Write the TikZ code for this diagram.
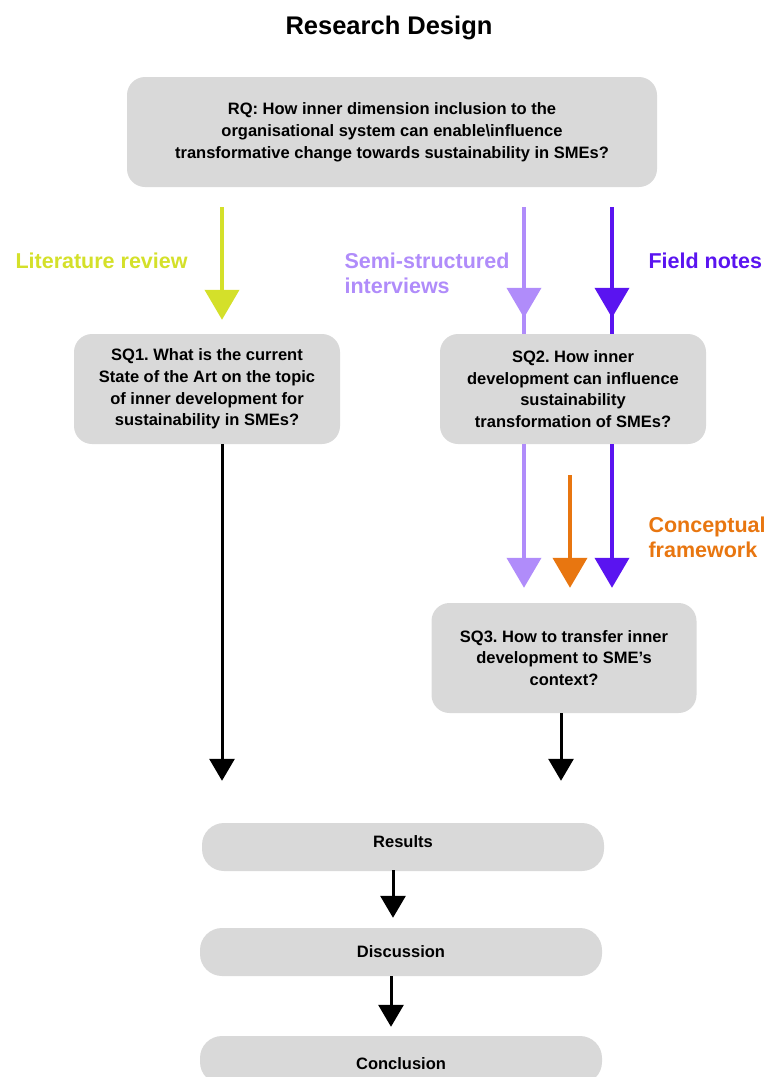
\documentclass[tikz,border=0pt]{standalone}
\usepackage{fontspec}
\setmainfont{Liberation Sans}
\usetikzlibrary{arrows.meta}
\frenchspacing

\definecolor{boxgray}{RGB}{217,217,217}
\definecolor{litgreen}{RGB}{212,224,42}
\definecolor{semipurple}{RGB}{176,140,250}
\definecolor{fieldpurple}{RGB}{90,20,240}
\definecolor{conceptorange}{RGB}{232,118,16}

\begin{document}
\begin{tikzpicture}[x=1pt,y=-1pt]

    \useasboundingbox (0,0) rectangle (766,1077);

    % key values (in pixels of the reference)
    \def\xlit{222}
    \def\xsemi{524}
    \def\xfield{612}
    \def\xconcept{570}
    \def\xsqthree{561}
    \def\ystart{207}

    % Styles
    \tikzstyle{box}=[fill=boxgray, rounded corners=18pt, align=center,
        font=\bfseries\fontsize{16.5}{21.8}\selectfont]
    \tikzstyle{endbox}=[box, rounded corners=22pt, minimum width=402pt,
        minimum height=48pt]
    \tikzstyle{flow}=[line width=4pt, -{Triangle[width=34pt,length=30pt]}]
    \tikzstyle{stem}=[line width=4pt]
    \tikzstyle{step arrow}=[line width=3pt, -{Triangle[width=25pt,length=22pt]}]
    \tikzstyle{method}=[anchor=west, align=left,
        font=\bfseries\fontsize{21.5}{25}\selectfont]

    % title
    \node (title) at (389,28) {\bfseries\fontsize{25.5}{28}\selectfont Research Design};

    % research question
    \node[box, minimum width=530pt, minimum height=110pt] (rq) at (392,132)
        {RQ: How inner dimension inclusion to the\\
         organisational system can enable\textbackslash influence\\
         transformative change towards sustainability in SMEs?};

    % sub questions
    \node[box, minimum width=266pt, minimum height=110pt] (sqone) at (207,389)
        {SQ1. What is the current\\
         State of the Art on the topic\\
         of inner development for\\
         sustainability in SMEs?};
    \node[box, minimum width=266pt, minimum height=110pt] (sqtwo) at (573,389)
        {SQ2. How inner\\
         development can influence\\
         sustainability\\
         transformation of SMEs?};
    \node[box, minimum width=265pt, minimum height=110pt] (sqthree) at (564,658)
        {SQ3. How to transfer inner\\
         development to SME's\\
         context?};

    % final steps
    \node[endbox, text height=8pt, text depth=8pt] (results) at (403,847) {Results};
    \node[endbox, text height=13pt, text depth=3pt] (discussion) at (401,952) {Discussion};
    \node[endbox, text height=20pt, text depth=2pt] (conclusion) at (401,1060) {Conclusion};

    % method labels
    \node[method, text=litgreen] (litlabel) at (12,261) {Literature review};
    \node[method, text=semipurple] (semilabel) at (341,273.5)
        {Semi-structured\\interviews};
    \node[method, text=fieldpurple] (fieldlabel) at (645,261) {Field notes};
    \node[method, text=conceptorange] (conceptlabel) at (645,537)
        {Conceptual\\framework};

    % start points of the method arrows
    \coordinate (litstart) at (\xlit,\ystart);
    \coordinate (semistart) at (\xsemi,\ystart);
    \coordinate (fieldstart) at (\xfield,\ystart);
    \coordinate (conceptstart) at (\xconcept,475);

    % literature review
    \draw[flow, litgreen, shorten >=14pt] (litstart) -- (litstart |- sqone.north);

    % interviews and field notes into SQ2
    \draw[stem, semipurple] (semistart) -- (semistart |- sqtwo.north);
    \draw[flow, semipurple, shorten >=16pt] (semistart) -- (semistart |- sqtwo.north);
    \draw[stem, fieldpurple] (fieldstart) -- (fieldstart |- sqtwo.north);
    \draw[flow, fieldpurple, shorten >=16pt] (fieldstart) -- (fieldstart |- sqtwo.north);

    % SQ2 and framework into SQ3
    \draw[flow, semipurple, shorten >=15pt] (semistart |- sqtwo.south) -- (semistart |- sqthree.north);
    \draw[flow, conceptorange, shorten >=15pt] (conceptstart) -- (conceptstart |- sqthree.north);
    \draw[flow, fieldpurple, shorten >=15pt] (fieldstart |- sqtwo.south) -- (fieldstart |- sqthree.north);

    % towards the results
    \draw[step arrow, shorten >=42pt] (sqone.south -| litstart) -- (litstart |- results.north);
    \coordinate (sqthreeout) at (\xsqthree,713);
    \draw[step arrow, shorten >=42pt] (sqthreeout) -- (sqthreeout |- results.north);

    % results, discussion, conclusion
    \coordinate (resout) at (393,870);
    \draw[step arrow, shorten >=10pt] (resout) -- (resout |- discussion.north);
    \coordinate (discout) at (391,976);
    \draw[step arrow, shorten >=9pt] (discout) -- (discout |- conclusion.north);

\end{tikzpicture}
\end{document}
